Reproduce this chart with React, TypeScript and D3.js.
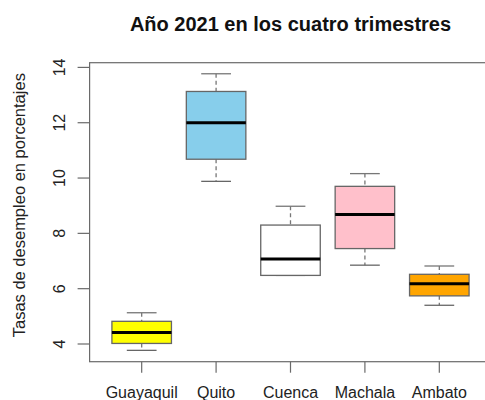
import React from "react";
import * as d3 from "d3";

// Five-number summaries per city: lower whisker, Q1, median, Q3, upper whisker
const cities = ["Guayaquil", "Quito", "Cuenca", "Machala", "Ambato"];
const lowerWhisker = [3.77, 9.88, 6.48, 6.85, 5.40];
const q1 = [4.02, 10.68, 6.48, 7.45, 5.74];
const median = [4.42, 12.0, 7.07, 8.68, 6.18];
const q3 = [4.82, 13.13, 8.3, 9.7, 6.52];
const upperWhisker = [5.13, 13.77, 8.98, 10.16, 6.82];
const fills = ["#FFFF00", "#87CEEB", "#FFFFFF", "#FFC0CB", "#FFA500"];
const yTicks = [4, 6, 8, 10, 12, 14];

const title = "Año 2021 en los cuatro trimestres";
const yTitle = "Tasas de desempleo en porcentajes";

const W = 485;
const H = 400;
const plot = { left: 89.6, right: 491.4, top: 62.7, bottom: 361.7 };
const font = "'Liberation Sans', Arial, sans-serif";
const frameColor = "#6a6a6a";

export default function App() {
  const x = d3.scaleLinear().domain([0.3, cities.length + 0.7]).range([plot.left, plot.right]);
  const y = d3.scaleLinear().domain([3.36, 14.17]).range([plot.bottom, plot.top]);
  const unit = x(1) - x(0);
  const boxHalf = unit * 0.4;
  const stapleHalf = unit * 0.2;

  return (
    <svg
      width={W}
      height={H}
      style={{ position: "absolute", left: 0, top: 0, background: "#fff" }}
    >
      <text
        x={(plot.left + plot.right) / 2}
        y={31}
        textAnchor="middle"
        fontFamily={font}
        fontWeight="bold"
        fontSize={20}
        fill="#111"
      >
        {title}
      </text>

      {/* plot frame */}
      <rect
        x={plot.left}
        y={plot.top}
        width={plot.right - plot.left}
        height={plot.bottom - plot.top}
        fill="none"
        stroke={frameColor}
        strokeWidth={1.2}
      />

      {/* y axis */}
      {yTicks.map((t) => (
        <g key={t}>
          <line x1={plot.left - 12} x2={plot.left} y1={y(t)} y2={y(t)} stroke={frameColor} strokeWidth={1.2} />
          <text
            transform={`translate(65,${y(t)}) rotate(-90)`}
            textAnchor="middle"
            fontFamily={font}
            fontSize={16}
            fill="#222"
          >
            {t}
          </text>
        </g>
      ))}
      <text
        transform={`translate(25,${(plot.top + plot.bottom) / 2 - 7}) rotate(-90)`}
        textAnchor="middle"
        fontFamily={font}
        fontSize={16.5}
        fill="#222"
      >
        {yTitle}
      </text>

      {/* x axis */}
      {cities.map((c, i) => (
        <g key={c}>
          <line x1={x(i + 1)} x2={x(i + 1)} y1={plot.bottom} y2={plot.bottom + 11} stroke={frameColor} strokeWidth={1.2} />
          <text x={x(i + 1)} y={398} textAnchor="middle" fontFamily={font} fontSize={16} fill="#222">
            {c}
          </text>
        </g>
      ))}

      {/* boxes */}
      {cities.map((c, i) => {
        const cx = x(i + 1);
        return (
          <g key={c}>
            <line x1={cx} x2={cx} y1={y(upperWhisker[i])} y2={y(q3[i])} stroke="#777" strokeWidth={1.3} strokeDasharray="4,3" />
            <line x1={cx} x2={cx} y1={y(q1[i])} y2={y(lowerWhisker[i])} stroke="#777" strokeWidth={1.3} strokeDasharray="4,3" />
            <line x1={cx - stapleHalf} x2={cx + stapleHalf} y1={y(upperWhisker[i])} y2={y(upperWhisker[i])} stroke="#777" strokeWidth={1.3} />
            <line x1={cx - stapleHalf} x2={cx + stapleHalf} y1={y(lowerWhisker[i])} y2={y(lowerWhisker[i])} stroke="#666" strokeWidth={1.3} />
            <rect
              x={cx - boxHalf}
              y={y(q3[i])}
              width={boxHalf * 2}
              height={y(q1[i]) - y(q3[i])}
              fill={fills[i]}
              stroke="#666"
              strokeWidth={1.3}
            />
            <line x1={cx - boxHalf} x2={cx + boxHalf} y1={y(median[i])} y2={y(median[i])} stroke="#000" strokeWidth={3} />
          </g>
        );
      })}
    </svg>
  );
}
